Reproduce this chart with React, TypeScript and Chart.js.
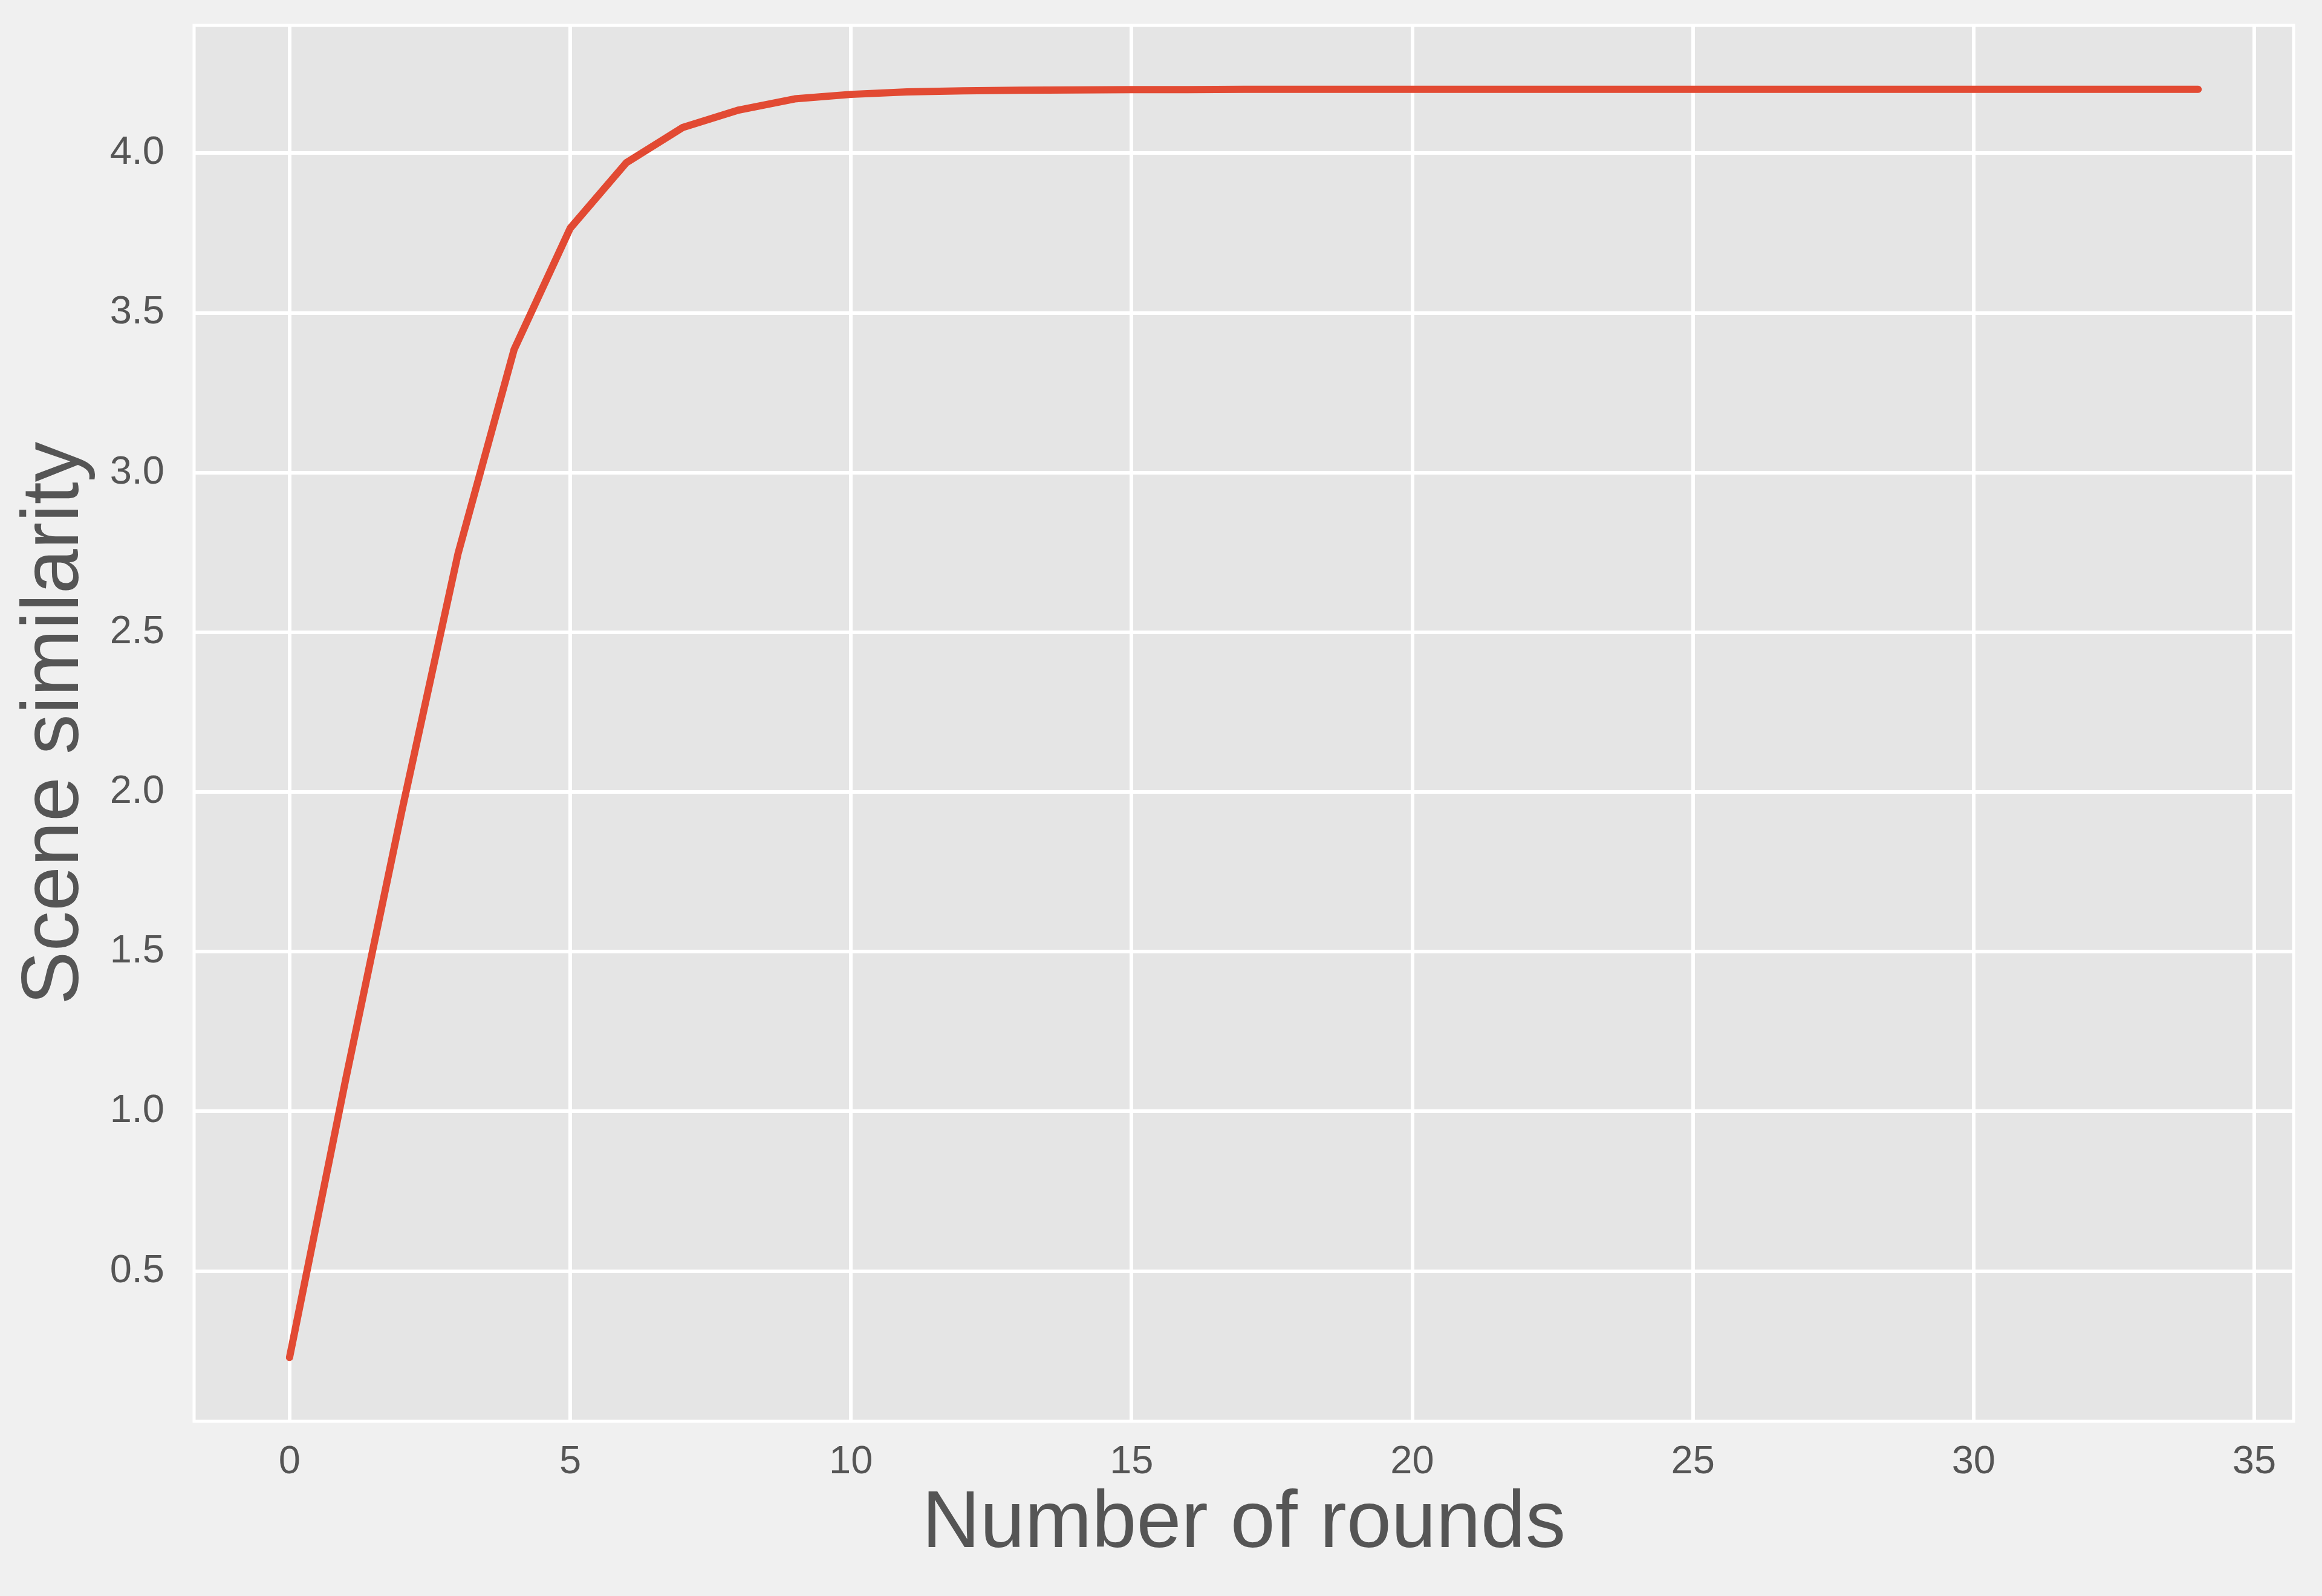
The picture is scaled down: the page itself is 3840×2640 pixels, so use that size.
import React, { useEffect, useRef } from "react";
import { Chart, registerables } from "chart.js";

Chart.register(...registerables);

const rounds: number[] = [
  0, 1, 2, 3, 4, 5, 6, 7, 8, 9, 10, 11, 12, 13, 14, 15, 16, 17, 18, 19, 20,
  21, 22, 23, 24, 25, 26, 27, 28, 29, 30, 31, 32, 33, 34,
];
const similarity: number[] = [
  0.23, 1.1, 1.94, 2.745, 3.385, 3.765, 3.97, 4.08, 4.135, 4.17, 4.184, 4.192,
  4.195, 4.197, 4.198, 4.199, 4.199, 4.2, 4.2, 4.2, 4.2, 4.2, 4.2, 4.2, 4.2,
  4.2, 4.2, 4.2, 4.2, 4.2, 4.2, 4.2, 4.2, 4.2, 4.2,
];
const xTickValues: number[] = [0, 5, 10, 15, 20, 25, 30, 35];
const yTickValues: number[] = [0.5, 1.0, 1.5, 2.0, 2.5, 3.0, 3.5, 4.0];
const xTitle = "Number of rounds";
const yTitle = "Scene similarity";

const FONT = "'Liberation Sans', Arial, Helvetica, sans-serif";
const TEXT = "#555555";

const bgPlugin = {
  id: "ggbg",
  beforeDraw(chart: any) {
    const { ctx, chartArea, width, height } = chart;
    ctx.save();
    ctx.fillStyle = "#F0F0F0";
    ctx.fillRect(0, 0, width, height);
    ctx.fillStyle = "#E5E5E5";
    ctx.fillRect(
      chartArea.left,
      chartArea.top,
      chartArea.right - chartArea.left,
      chartArea.bottom - chartArea.top
    );
    ctx.restore();
  },
  afterDraw(chart: any) {
    const { ctx, chartArea } = chart;
    ctx.save();
    ctx.strokeStyle = "#FFFFFF";
    ctx.lineWidth = 5;
    ctx.strokeRect(
      chartArea.left,
      chartArea.top,
      chartArea.right - chartArea.left,
      chartArea.bottom - chartArea.top
    );
    ctx.restore();
  },
};

export default function App() {
  const ref = useRef<HTMLCanvasElement | null>(null);

  useEffect(() => {
    document.body.style.margin = "0";
    document.body.style.background = "#F0F0F0";
    const canvas = ref.current;
    if (!canvas) return;
    const chart = new Chart(canvas, {
      type: "line",
      data: {
        datasets: [
          {
            data: rounds.map((r, i) => ({ x: r, y: similarity[i] })),
            borderColor: "#E24A33",
            backgroundColor: "#E24A33",
            borderWidth: 12,
            pointRadius: 0,
            tension: 0,
            fill: false,
            borderCapStyle: "round",
            borderJoinStyle: "round",
          },
        ],
      },
      options: {
        responsive: false,
        animation: false,
        devicePixelRatio: 1,
        layout: { padding: { top: 42, right: 47, left: 0, bottom: 0 } },
        plugins: {
          legend: { display: false },
          tooltip: { enabled: false },
        },
        scales: {
          x: {
            type: "linear",
            min: -1.7,
            max: 35.7,
            afterBuildTicks: (scale: any) => {
              scale.ticks = xTickValues.map((v) => ({ value: v }));
            },
            afterFit: (scale: any) => {
              scale.height = 289;
              scale.paddingLeft = 0;
              scale.paddingRight = 0;
              scale.paddingTop = 0;
              scale.paddingBottom = 0;
            },
            grid: { color: "#FFFFFF", lineWidth: 6, drawTicks: false },
            border: { display: false },
            ticks: {
              padding: 29,
              color: TEXT,
              font: { family: FONT, size: 65 },
              maxRotation: 0,
              autoSkip: false,
              callback: (v: any) => String(v),
            },
            title: {
              display: true,
              text: xTitle,
              color: TEXT,
              font: { family: FONT, size: 133, lineHeight: 1.2 },
              padding: { top: 0, bottom: 38 },
            },
          },
          y: {
            type: "linear",
            min: 0.03,
            max: 4.4,
            afterBuildTicks: (scale: any) => {
              scale.ticks = yTickValues.map((v) => ({ value: v }));
            },
            afterFit: (scale: any) => {
              scale.width = 321;
              scale.paddingLeft = 0;
              scale.paddingRight = 0;
              scale.paddingTop = 0;
              scale.paddingBottom = 0;
            },
            grid: { color: "#FFFFFF", lineWidth: 6, drawTicks: false },
            border: { display: false },
            ticks: {
              padding: 49,
              color: TEXT,
              font: { family: FONT, size: 65 },
              autoSkip: false,
              callback: (v: any) => Number(v).toFixed(1),
            },
            title: {
              display: true,
              text: yTitle,
              color: TEXT,
              font: { family: FONT, size: 133, lineHeight: 1.2 },
              padding: { top: 13, bottom: 0 },
            },
          },
        },
      },
      plugins: [bgPlugin],
    });
    return () => chart.destroy();
  }, []);

  return (
    <div style={{ width: 3840, height: 2640, background: "#F0F0F0" }}>
      <canvas
        ref={ref}
        width={3840}
        height={2640}
        style={{ display: "block", width: 3840, height: 2640 }}
      />
    </div>
  );
}
